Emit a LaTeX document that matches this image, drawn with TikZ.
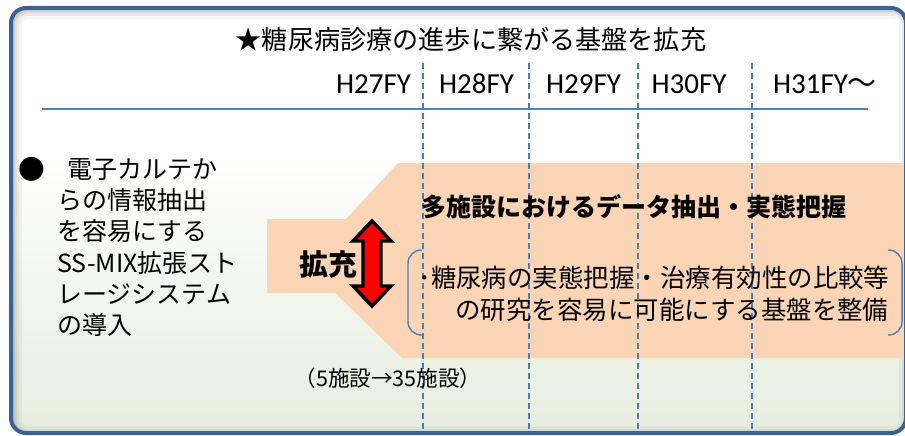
\documentclass[tikz,border=0pt]{standalone}
\usepackage{fontspec}
\setmainfont{Carlito}
\newfontfamily\jp{Noto Sans CJK JP}
\definecolor{frameblue}{RGB}{60,97,146}
\definecolor{lineblue}{RGB}{79,129,189}
\definecolor{dashblue}{RGB}{74,126,187}
\definecolor{peach}{RGB}{251,213,181}
\definecolor{bggreen}{RGB}{230,237,222}
\tikzset{
  yr/.style={font=\fontsize{21.75pt}{26pt}\selectfont, anchor=base, inner sep=0pt},
  lefttxt/.style={font=\jp\fontsize{18.75pt}{23pt}\selectfont, anchor=base west, inner sep=0pt},
  bodytxt/.style={font=\jp\fontsize{19.1pt}{23pt}\selectfont, anchor=base west, inner sep=0pt},
  yeardash/.style={dashblue, line width=1.1pt, dash pattern=on 4.5pt off 3pt},
  bracketline/.style={lineblue, line width=1.1pt, rounded corners=10pt},
}
\begin{document}
\begin{tikzpicture}[x=0.75pt,y=-0.75pt]
\useasboundingbox (0,0) rectangle (905,435);
\clip (0,0) rectangle (905,435);
\begin{scope}
  \clip[rounded corners=11.25pt] (11,8) rectangle (906,433);
  \fill[white] (0,0) rectangle (910,440);
  \shade[top color=white, bottom color=bggreen] (0,150) rectangle (910,440);
  \draw[black, opacity=0.035, line width=13.5pt, rounded corners=11.25pt] (13,10) rectangle (908,435);
  \draw[black, opacity=0.045, line width=9pt, rounded corners=11.25pt] (13,10) rectangle (908,435);
  \draw[black, opacity=0.06, line width=5.25pt, rounded corners=11.25pt] (13,10) rectangle (908,435);
  \draw[black, opacity=0.08, line width=2.5pt, rounded corners=11.25pt] (13,10) rectangle (908,435);
  % peach band
  \fill[peach] (267,219) -- (346,219) -- (398,163) -- (910,163) -- (910,358)
     -- (402,358) -- (335,293) -- (267,293) -- cycle;
  % year dividers
  \foreach \xx in {423,529,638,752} \draw[yeardash] (\xx,63) -- (\xx,436);
\end{scope}
\draw[frameblue, line width=3pt, rounded corners=11.25pt] (11,8) rectangle (906,433);

% title
\node[font=\jp\fontsize{19.6pt}{24pt}\selectfont, inner sep=0pt] (title) at (471,40) {★糖尿病診療の進歩に繋がる基盤を拡充};

% years
\node[yr] (y27) at (373.5,93) {H27FY};
\node[yr] (y28) at (476.5,93) {H28FY};
\node[yr] (y29) at (583.5,93) {H29FY};
\node[yr] (y30) at (689,93) {H30FY};
\node[yr] (y31) at (825,93) {H31FY{\jp ～}};
\draw[lineblue, line width=1.5pt] (42,109) -- (868,109);

% left description
\node[font=\jp\fontsize{20pt}{22pt}\selectfont, inner sep=0pt] (bullet) at (32,169) {●};
\node[lefttxt] (l1) at (67,178.5) {電子カルテか};
\node[lefttxt] (l2) at (57,209.7) {らの情報抽出};
\node[lefttxt] (l3) at (57,240.9) {を容易にする};
\node[lefttxt] (l4) at (57,272.1) {SS-MIX拡張スト};
\node[lefttxt] (l5) at (57,303.3) {レージシステム};
\node[lefttxt] (l6) at (57,334.5) {の導入};

% expansion arrow
\draw[black, line width=2.6pt, fill=red, miter limit=10]
  (372,221) -- (391,241) -- (381,241) -- (381,286) -- (391,286) -- (372,306)
  -- (353,286) -- (363,286) -- (363,241) -- (353,241) -- cycle;
\node[font=\jp\bfseries\fontsize{21.75pt}{26pt}\selectfont, inner sep=0pt] (kakuju) at (328,265) {拡充};

% heading
\node[bodytxt, font=\jp\bfseries\fontsize{18.75pt}{23pt}\selectfont] (head) at (421,216.5) {多施設におけるデータ抽出・実態把握};

% brackets and bracketed text
\draw[bracketline] (422,250) -- (408,250) -- (408,335) -- (422,335);
\draw[bracketline] (888,250) -- (902,250) -- (902,335) -- (888,335);
\node[bodytxt] (b1) at (418,287.5) {･糖尿病の実態把握・治療有効性の比較等};
\node[bodytxt] (b2) at (455,319.5) {の研究を容易に可能にする基盤を整備};

% facilities
\node[font=\jp\fontsize{16.2pt}{18pt}\selectfont, inner sep=0pt] (fac) at (388,378) {（5施設→35施設）};
\end{tikzpicture}
\end{document}
